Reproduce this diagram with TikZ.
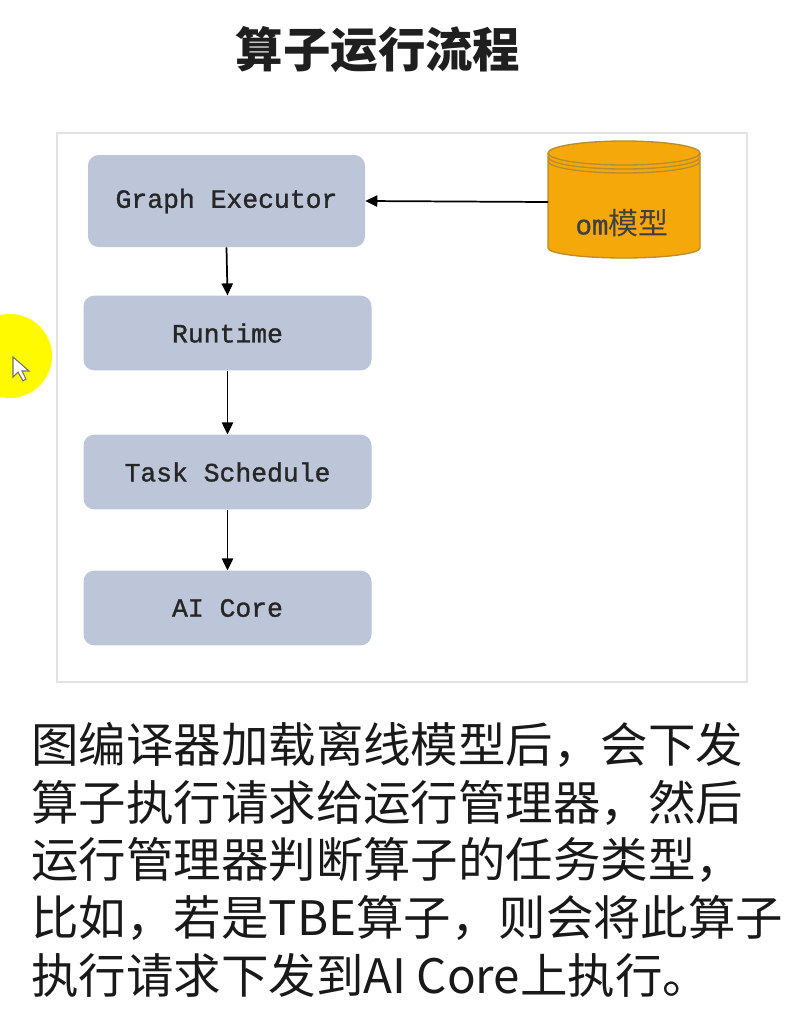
\documentclass[tikz,border=0pt]{standalone}
\usepackage{fontspec}
\setmainfont{Noto Sans CJK SC}
\newfontfamily\boxfont{Liberation Mono}[FakeBold=1.2]
\usetikzlibrary{arrows.meta}
\definecolor{boxblue}{RGB}{188,198,216}
\definecolor{dbgold}{RGB}{245,168,10}
\definecolor{dbedge}{RGB}{185,140,45}
\definecolor{framegray}{RGB}{226,226,226}
\definecolor{hiyellow}{RGB}{255,250,0}
\begin{document}
\begin{tikzpicture}[x=0.75pt,y=-0.75pt,
    flowbox/.style={fill=boxblue, rounded corners=8pt, minimum width=216pt,
        minimum height=56pt, text=black!85,
        font=\boxfont\fontsize{19.8}{22}\selectfont},
    flowarrow/.style={-{Triangle[length=9pt,width=8.5pt]}, line width=1.3pt},
    bodytext/.style={anchor=west, inner sep=0pt, text=black!90,
        font=\fontsize{35.6}{40}\selectfont}]
    \useasboundingbox (0,0) rectangle (803,1015);
    % title and frame
    \node[font=\bfseries\fontsize{35.6}{40}\selectfont, text=black!88] (title) at (378,50) {算子运行流程};
    \draw[framegray, line width=1pt] (57,133) rectangle (747,682);
    % cursor highlight
    \fill[hiyellow] (10,356) circle[radius=42];
    \filldraw[fill=white, draw=black!55, line width=0.8pt]
        (13,357) -- (13,377) -- (18,372) -- (23,381) -- (26,379) -- (22,371) -- (29,371) -- cycle;
    % flow boxes
    \node[flowbox, minimum width=207.75pt, minimum height=69pt] (ge) at (226.5,201) {Graph Executor};
    \node[flowbox] (rt) at (227.5,333) {Runtime};
    \node[flowbox] (ts) at (227.5,472) {Task Schedule};
    \node[flowbox] (ai) at (227.5,608) {AI Core};
    % om model cylinder
    \filldraw[fill=dbgold, draw=dbedge, line width=1pt]
        (548,153) -- (548,248) arc[start angle=180,end angle=0,x radius=76,y radius=10]
        -- (700,153) arc[start angle=0,end angle=-180,x radius=76,y radius=12] -- cycle;
    \foreach \dy in {0,4,8}
        \draw[dbedge, line width=1pt] (548,153+\dy) arc[start angle=180,end angle=0,x radius=76,y radius=12];
    \coordinate (omL) at (548,202);
    \node[text=black!75, font=\fontsize{22.5}{24}\selectfont] (omlabel) at (622,223)
        {{\boxfont\fontsize{20.6}{22}\selectfont om}模型};
    % connectors
    \draw[flowarrow] (omL) -- (ge.east);
    \draw[flowarrow] (ge.south) -- (rt.north);
    \draw[flowarrow] (rt) -- (ts);
    \draw[flowarrow] (ts) -- (ai);
    % explanation
    \foreach \txt [count=\i] in {图编译器加载离线模型后，会下发,
        算子执行请求给运行管理器，然后,
        运行管理器判断算子的任务类型，,
        比如，若是TBE算子，则会将此算子,
        执行请求下发到AI Core上执行。}
        \node[bodytext] (line\i) at (31,{745+57.5*(\i-1)}) {\txt};
\end{tikzpicture}
\end{document}
